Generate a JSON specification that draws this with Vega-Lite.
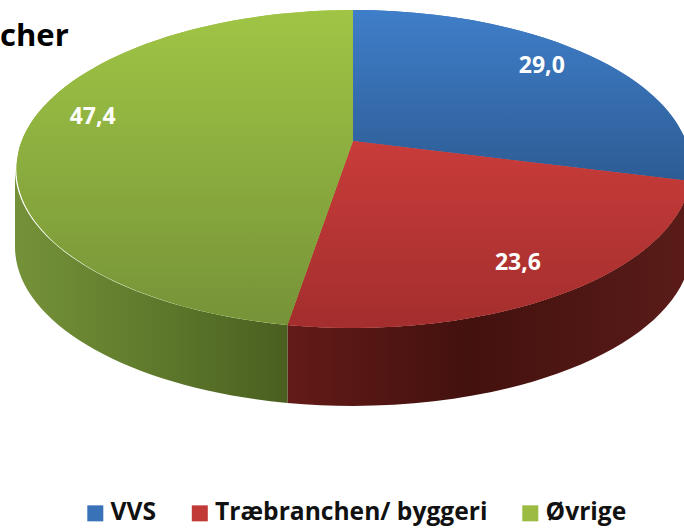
{"$schema":"https://vega.github.io/schema/vega-lite/v6.json","width":684,"height":530,"padding":0,"autosize":{"type":"none"},"background":"white","view":{"stroke":null},"title":{"text":"cher","anchor":"start","frame":"group","orient":"top","offset":-53,"dx":0,"font":"Open Sans","fontSize":31,"fontWeight":"bold","color":"#000000"},"data":{"values":[{"branche":"VVS","andel":29.0,"orden":1,"etiket":"29,0"},{"branche":"Træbranchen/ byggeri","andel":23.6,"orden":2,"etiket":"23,6"},{"branche":"Øvrige","andel":47.4,"orden":3,"etiket":"47,4"}]},"transform":[{"stack":"andel","groupby":[],"sort":[{"field":"orden","order":"ascending"}],"offset":"normalize","as":["f0","f1"]},{"calculate":"2*PI*datum.f0","as":"t0"},{"calculate":"2*PI*datum.f1","as":"t1"},{"calculate":"333*sin(datum.t0)/(1+0.176*cos(datum.t0))","as":"x0"},{"calculate":"-154*cos(datum.t0)/(1+0.176*cos(datum.t0))","as":"y0"},{"calculate":"333*sin(datum.t1)/(1+0.176*cos(datum.t1))","as":"x1"},{"calculate":"-154*cos(datum.t1)/(1+0.176*cos(datum.t1))","as":"y1"},{"calculate":"((datum.x0*(datum.y1-28)-(datum.y0-28)*datum.x1)<0)?1:0","as":"large"},{"calculate":"'M0,0 L'+datum.x0+','+datum.y0+' A338,159 0 '+datum.large+' 1 '+datum.x1+','+datum.y1+' Z'","as":"top"},{"calculate":"datum.y0<28?338:datum.x0","as":"sx"},{"calculate":"datum.y0<28?28:datum.y0","as":"sy"},{"calculate":"datum.y1<28?-338:datum.x1","as":"ex"},{"calculate":"datum.y1<28?28:datum.y1","as":"ey"},{"calculate":"'M'+datum.sx+','+datum.sy+' A338,159 0 0 1 '+datum.ex+','+datum.ey+' L'+datum.ex+','+(datum.ey+78)+' A338,159 0 0 0 '+datum.sx+','+(datum.sy+78)+' Z'","as":"wall"},{"calculate":"(datum.t0+datum.t1)/2*1.0436-0.0925","as":"tm"},{"calculate":"353+0.82*333*sin(datum.tm)/(1+0.82*0.176*cos(datum.tm))","as":"lx"},{"calculate":"141-0.82*154*cos(datum.tm)/(1+0.82*0.176*cos(datum.tm))","as":"ly"}],"layer":[{"transform":[{"filter":"datum.orden==1"}],"mark":{"type":"point","filled":true,"size":4,"xOffset":11,"yOffset":-124,"opacity":1,"fill":"#234a75"},"encoding":{"shape":{"field":"wall","type":"nominal","scale":null,"legend":null}}},{"transform":[{"filter":"datum.orden==2"}],"mark":{"type":"point","filled":true,"size":4,"xOffset":11,"yOffset":-124,"opacity":1,"fill":{"x1":0,"y1":0,"x2":1,"y2":0,"gradient":"linear","stops":[{"offset":0,"color":"#631b18"},{"offset":0.45,"color":"#43110e"},{"offset":1,"color":"#5a1c19"}]}},"encoding":{"shape":{"field":"wall","type":"nominal","scale":null,"legend":null}}},{"transform":[{"filter":"datum.orden==3"}],"mark":{"type":"point","filled":true,"size":4,"xOffset":11,"yOffset":-124,"opacity":1,"fill":{"x1":0,"y1":0,"x2":1,"y2":0,"gradient":"linear","stops":[{"offset":0,"color":"#759239"},{"offset":0.5,"color":"#5f7a2c"},{"offset":1,"color":"#4a5f20"}]}},"encoding":{"shape":{"field":"wall","type":"nominal","scale":null,"legend":null}}},{"mark":{"type":"point","filled":true,"size":4,"xOffset":11,"yOffset":-124,"opacity":1},"encoding":{"shape":{"field":"top","type":"nominal","scale":null,"legend":null},"color":{"field":"branche","type":"nominal","scale":{"domain":["VVS","Træbranchen/ byggeri","Øvrige"],"range":["#3a72b8","#c23a38","#9bbb42"]},"legend":{"title":null,"orient":"none","legendX":83,"legendY":501,"direction":"horizontal","symbolType":"square","symbolSize":256,"symbolStrokeWidth":0,"labelFont":"Open Sans","labelFontSize":24.6,"labelFontWeight":"bold","labelColor":"#111111","columnPadding":30.5,"labelOffset":3,"labelLimit":320}}}},{"transform":[{"filter":"datum.orden==1"}],"mark":{"type":"point","filled":true,"size":4,"xOffset":11,"yOffset":-124,"opacity":1,"fill":{"x1":0,"y1":0,"x2":0,"y2":1,"gradient":"linear","stops":[{"offset":0,"color":"#3f7ec9"},{"offset":1,"color":"#2d5c94"}]}},"encoding":{"shape":{"field":"top","type":"nominal","scale":null,"legend":null}}},{"transform":[{"filter":"datum.orden==2"}],"mark":{"type":"point","filled":true,"size":4,"xOffset":11,"yOffset":-124,"opacity":1,"fill":{"x1":0,"y1":0,"x2":0,"y2":1,"gradient":"linear","stops":[{"offset":0,"color":"#c83c3a"},{"offset":1,"color":"#a32e2d"}]}},"encoding":{"shape":{"field":"top","type":"nominal","scale":null,"legend":null}}},{"transform":[{"filter":"datum.orden==3"}],"mark":{"type":"point","filled":true,"size":4,"xOffset":11,"yOffset":-124,"opacity":1,"fill":{"x1":0,"y1":0,"x2":0,"y2":1,"gradient":"linear","stops":[{"offset":0,"color":"#a0c545"},{"offset":1,"color":"#769338"}]}},"encoding":{"shape":{"field":"top","type":"nominal","scale":null,"legend":null}}},{"mark":{"type":"text","font":"Open Sans","fontSize":23,"fontWeight":"bold","color":"#ffffff"},"encoding":{"x":{"field":"lx","type":"quantitative","scale":null},"y":{"field":"ly","type":"quantitative","scale":null},"text":{"field":"etiket","type":"nominal"}}}]}
